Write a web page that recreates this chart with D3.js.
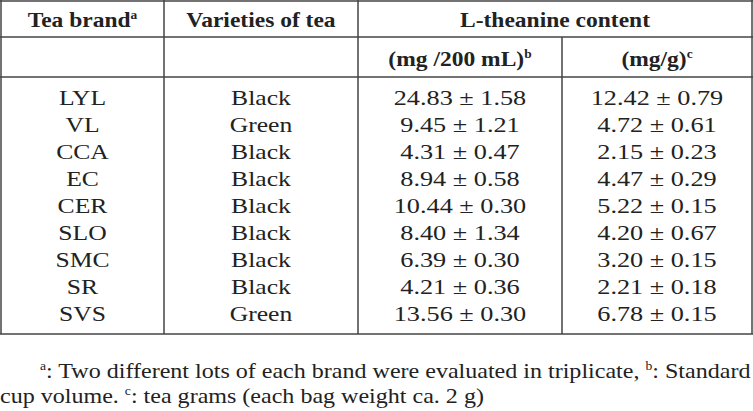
<!DOCTYPE html><html><head><meta charset="utf-8">
<script src="https://cdn.jsdelivr.net/npm/d3@7"></script>
<style>body{margin:0;background:#fff}text{font-family:"Liberation Serif","Times New Roman",serif;fill:#222}</style></head><body>
<svg id="c" width="753" height="411"></svg>
<script>
const brands=["LYL","VL","CCA","EC","CER","SLO","SMC","SR","SVS"];
const varieties=["Black","Green","Black","Black","Black","Black","Black","Black","Green"];
const perCup=["24.83 ± 1.58","9.45 ± 1.21","4.31 ± 0.47","8.94 ± 0.58","10.44 ± 0.30","8.40 ± 1.34","6.39 ± 0.30","4.21 ± 0.36","13.56 ± 0.30"];
const perGram=["12.42 ± 0.79","4.72 ± 0.61","2.15 ± 0.23","4.47 ± 0.29","5.22 ± 0.15","4.20 ± 0.67","3.20 ± 0.15","2.21 ± 0.18","6.78 ± 0.15"];
const svg=d3.select("#c");
const cols=[1,164,358,562,752];
const y=d3.scaleBand().domain(brands).range([84,328]);
const line=(x1,y1,x2,y2)=>svg.append("line").attr("x1",x1).attr("y1",y1).attr("x2",x2).attr("y2",y2).attr("stroke","#444").attr("stroke-width",1.5);
line(0,1,753,1);line(0,37,753,37);line(0,77,753,77);line(0,334,753,334);
[1,164,358,752].forEach(x=>line(x,0,x,334));line(562,37,562,334);
const T=(x,yy,s,o={})=>{const sc=o.sc||1.12;const t=svg.append("text").attr("x",x).attr("y",yy).attr("text-anchor",o.a||"middle").attr("font-size",o.fs||21).attr("font-weight",o.b?"bold":"normal").attr("transform",`translate(${x},0) scale(${sc},1) translate(${-x},0)`);return t;};
const mid=i=>(cols[i]+cols[i+1])/2;
let t=T(mid(0),27,"",{b:1});t.append("tspan").text("Tea brand");t.append("tspan").attr("font-size",12).attr("dy",-8).text("a");
T(mid(1),27,"",{b:1}).text("Varieties of tea");
T((358+752)/2,27,"",{b:1}).text("L-theanine content");
t=T(mid(2),66,"",{b:1});t.append("tspan").text("(mg /200 mL)");t.append("tspan").attr("font-size",12).attr("dy",-8).text("b");
t=T(mid(3),66,"",{b:1});t.append("tspan").text("(mg/g)");t.append("tspan").attr("font-size",12).attr("dy",-8).text("c");
brands.forEach((b,i)=>{const yy=y(b)+y.bandwidth()/2+7;
T(mid(0),yy,"",{sc:1.22}).text(b);T(mid(1),yy,"",{sc:1.22}).text(varieties[i]);T(mid(2),yy,"",{sc:1.25}).text(perCup[i]);T(mid(3),yy,"",{sc:1.25}).text(perGram[i]);});
t=T(40,378,"",{a:"start",sc:1.145});t.append("tspan").attr("font-size",12).attr("dy",-8).text("a");t.append("tspan").attr("dy",8).text(": Two different lots of each brand were evaluated in triplicate, ");t.append("tspan").attr("font-size",12).attr("dy",-8).text("b");t.append("tspan").attr("dy",8).text(": Standard");
t=T(0,403,"",{a:"start",sc:1.145});t.append("tspan").text("cup volume. ");t.append("tspan").attr("font-size",12).attr("dy",-8).text("c");t.append("tspan").attr("dy",8).text(": tea grams (each bag weight ca. 2 g)");
</script></body></html>
